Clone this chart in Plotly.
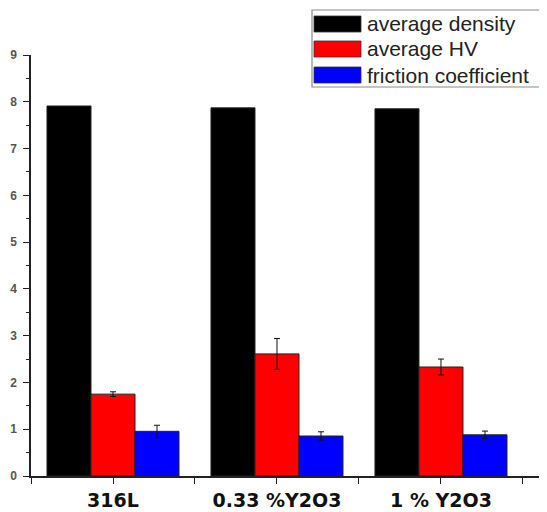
import plotly.graph_objects as go

categories = ["316L", "0.33 %Y2O3", "1 % Y2O3"]
series_names = ["average density", "average HV", "friction coefficient"]
density = [7.91, 7.87, 7.85]
hv = [1.75, 2.61, 2.33]
hv_err = [0.05, 0.33, 0.17]
friction = [0.955, 0.855, 0.88]
friction_err = [0.13, 0.09, 0.08]
colors = ["#000000", "#ff0000", "#0000ff"]

# the page body adds an 8px offset; plan everything in screen pixels
OFF = 8
SW, SH = 547, 512
PL, PR, PT, PB = 31, 542, 55, 476  # plot area in screen pixels
W, H = SW - OFF, SH - OFF
L, R, T, B = PL - OFF, SW - PR, PT - OFF, SH - PB
pw, ph = PR - PL, PB - PT

def px2paper(x, y):
    return (x - PL) / pw, (PB - y) / ph

xpos = list(range(len(categories)))
fig = go.Figure()
values = [density, hv, friction]
errs = [None, hv_err, friction_err]
for name, vals, err, col in zip(series_names, values, errs, colors):
    fig.add_trace(go.Bar(
        x=xpos, y=vals, name=name,
        marker=dict(color=col, line=dict(color="#222222", width=1)),
        error_y=(dict(type="data", array=err, color="#111111", thickness=1, width=3)
                 if err else dict(visible=False)),
        showlegend=False,
    ))

# legend box drawn with shapes + annotations
shapes = []
annotations = []
x0, y0 = px2paper(312, 10)
x1, y1 = px2paper(542, 87)
shapes.append(dict(type="rect", xref="paper", yref="paper", x0=x0, x1=x1, y0=y1, y1=y0,
                   line=dict(color="#8a8a8a", width=1.2), fillcolor="white", layer="above"))
row_y = [24, 49, 75]
for name, col, ry in zip(series_names, colors, row_y):
    sx0, sy0 = px2paper(314, ry - 8)
    sx1, sy1 = px2paper(361, ry + 8)
    shapes.append(dict(type="rect", xref="paper", yref="paper", x0=sx0, x1=sx1, y0=sy1, y1=sy0,
                       line=dict(color="#333333", width=0.8), fillcolor=col, layer="above"))
    tx, ty = px2paper(365, ry)
    annotations.append(dict(xref="paper", yref="paper", x=tx, y=ty, text=name, showarrow=False,
                            xanchor="left", yanchor="middle",
                            font=dict(family="Liberation Sans, Arial", size=21, color="#222222")))

fig.update_layout(
    width=W, height=H,
    margin=dict(l=L, r=R, t=T, b=B, autoexpand=False),
    plot_bgcolor="white", paper_bgcolor="white",
    barmode="group", bargap=0.195, bargroupgap=0,
    shapes=shapes, annotations=annotations,
    xaxis=dict(range=[-0.5, 2.616], tickvals=xpos, ticktext=categories,
               showline=True, linecolor="#222222", linewidth=1.5,
               ticks="outside", ticklen=6, tickcolor="#222222", tickwidth=1.2,
               showgrid=False, zeroline=False, ticklabelstandoff=0,
               tickfont=dict(family="DejaVu Sans", size=19, color="#111111", weight="bold"),
               minor=dict(tickvals=[-0.5, 0.5, 1.5, 2.5], ticks="outside", ticklen=6,
                          tickcolor="#222222", tickwidth=1.2)),
    yaxis=dict(range=[0, 9], dtick=1, tick0=0,
               showline=True, linecolor="#222222", linewidth=1.5,
               ticks="outside", ticklen=6, tickcolor="#222222", tickwidth=1.2,
               showgrid=False, zeroline=False, ticklabelstandoff=4,
               tickfont=dict(family="Liberation Sans, Arial", size=12, color="#555555", weight="bold"),
               minor=dict(dtick=0.5, ticks="outside", ticklen=3, tickcolor="#222222", tickwidth=1)),
)

fig.write_html("out.html")
